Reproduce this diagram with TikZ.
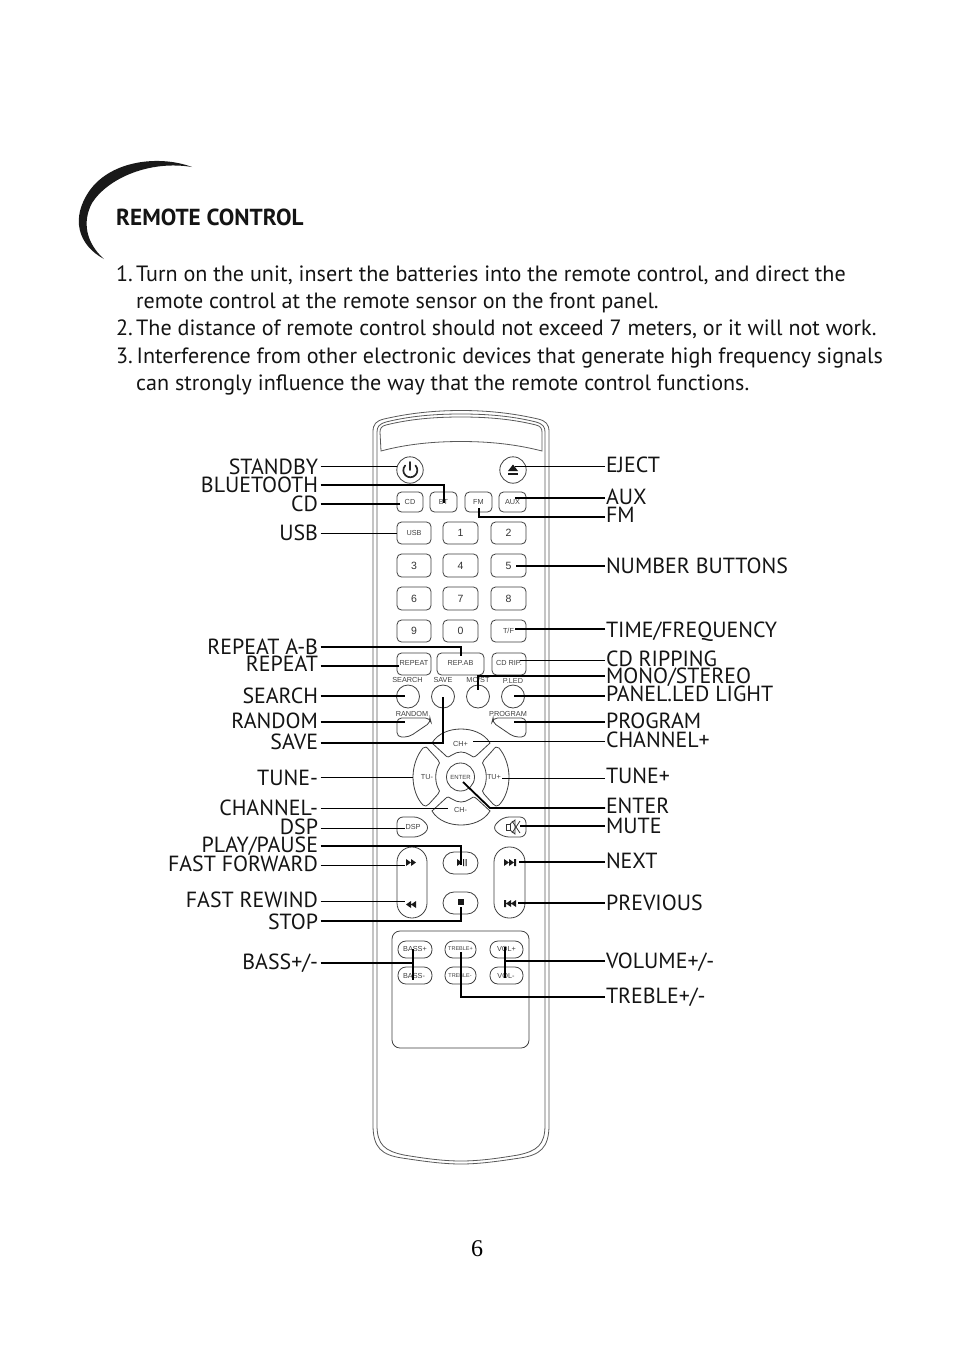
\documentclass[tikz,border=0pt]{standalone}
\usepackage{fontspec}
\setmainfont{PT Sans}
\newfontfamily\arialf{Liberation Sans}
\newfontfamily\timesf{Liberation Serif}
\tikzset{
 lblbase/.style={inner sep=0pt,text height=16pt,text depth=0pt,font=\fontsize{21.9}{21.9}\selectfont,text=black!92},
 lblL/.style={lblbase,anchor=east,outer sep=2.5pt},
 lblR/.style={lblbase,anchor=west,outer sep=1pt},
 up1/.style={text height=14pt},
 up2/.style={text height=12pt},
 up3/.style={text height=10pt},
 up4/.style={text height=8pt},
 bodytxt/.style={anchor=base west,inner sep=0pt,font=\fontsize{22.1}{27}\selectfont,text=black!92},
 thinc/.style={draw=black,line width=1pt},
 thickc/.style={draw=black,line width=1.8pt},
 rim/.style={draw=black!65,line width=0.8pt},
 keybox/.style={draw=black!75,line width=0.8pt,rounded corners=4.5pt},
 pill/.style={draw=black!75,line width=0.8pt},
 btxt/.style={inner sep=0pt,text=black!75,font=\arialf\fontsize{7.3}{7.3}\selectfont},
 btxtn/.style={inner sep=0pt,text=black!80,font=\arialf\fontsize{10.5}{10.5}\selectfont},
}
\newcommand{\rkey}[5]{\draw[keybox] (#1,#3) rectangle (#2,#4); \node[btxt] at ({(#1+#2)/2},{(#3+#4)/2}) {#5};}
\newcommand{\nkey}[5]{\draw[keybox] (#1,#3) rectangle (#2,#4); \node[btxtn] at ({(#1+#2)/2},{(#3+#4)/2}) {#5};}
\begin{document}
\begin{tikzpicture}[x=1pt,y=-1pt]
\useasboundingbox (0,0) rectangle (954,1354);
\fill[white] (0,0) rectangle (954,1354);
% swoosh
\fill[black!90] (192,167) .. controls (160,155) and (112,160) .. (90,190) .. controls (70,218) and (78,245) .. (104,259) .. controls (86,243) and (82,222) .. (92,203) .. controls (108,178) and (150,160) .. (192,167) -- cycle;
% text
\node[anchor=base west,inner sep=0pt,font=\bfseries\fontsize{23.2}{23.2}\selectfont,text=black!92] (title) at (116,225) {REMOTE CONTROL};
\node[bodytxt] (l1) at (116,281) {\makebox[20pt][l]{1.}Turn on the unit, insert the batteries into the remote control, and direct the};
\node[bodytxt] (l2) at (136,308) {remote control at the remote sensor on the front panel.};
\node[bodytxt] (l3) at (116,335) {\makebox[20pt][l]{2.}The distance of remote control should not exceed 7 meters, or it will not work.};
\node[bodytxt] (l4) at (116,363) {\makebox[20.5pt][l]{3.}Interference from other electronic devices that generate high frequency signals};
\node[bodytxt] (l5) at (136,390) {can strongly influence the way that the remote control functions.};
\node[anchor=base,inner sep=0pt,font=\timesf\fontsize{24}{24}\selectfont] (pg) at (477,1256) {6};
% body
\draw[rim] (373,432) .. controls (373,424) and (376,421) .. (384,419) .. controls (410,413) and (435,410.5) .. (461,410.5) .. controls (487,410.5) and (512,413) .. (538,419) .. controls (546,421) and (549,424) .. (549,432) -- (549,1125) .. controls (549,1148) and (540,1155) .. (520,1158) .. controls (500,1161) and (480,1164) .. (461,1164) .. controls (442,1164) and (422,1161) .. (402,1158) .. controls (382,1155) and (373,1148) .. (373,1125) -- cycle;
\draw[rim] (377,432) .. controls (377,427) and (379,424) .. (386,422) .. controls (410,416) and (435,414) .. (461,414) .. controls (487,414) and (512,416) .. (536,422) .. controls (543,424) and (545,427) .. (545,432) -- (545,1125) .. controls (545,1145) and (537,1151) .. (518,1155) .. controls (500,1158) and (480,1161) .. (461,1161) .. controls (442,1161) and (422,1158) .. (404,1155) .. controls (385,1151) and (377,1145) .. (377,1125) -- cycle;
\draw[rim] (381,451) -- (380,432) .. controls (380,428) and (382,426) .. (386,425) .. controls (410,419) and (435,417) .. (461,417) .. controls (487,417) and (512,419) .. (536,425) .. controls (540,426) and (542,428) .. (542,432) -- (542,451) .. controls (515,444) and (488,441.5) .. (461,441.5) .. controls (434,441.5) and (407,444) .. (381,451) -- cycle;
% power / eject
\draw[pill] (410,470) circle (13.2);
\draw[pill] (513,470) circle (13.2);
\draw[black!85,line width=1.7pt,line cap=round] (405.2,465.5) arc (223:-43:7);
\draw[black!85,line width=1.7pt,line cap=round] (410,462) -- (410,470);
\fill[black!90] (513,464.5) -- (518,471) -- (508,471) -- cycle;
\fill[black!90] (508,472.5) rectangle (518,474.5);
% key rows
\rkey{397}{423}{492}{512}{CD}
\rkey{430}{457}{492}{512}{BT}
\rkey{465}{492}{492}{512}{FM}
\rkey{499}{526}{492}{512}{AUX}
\rkey{397}{431}{522}{544}{USB}
\nkey{443}{478}{522}{544}{1}
\nkey{491}{526}{522}{544}{2}
\nkey{397}{431}{554}{577}{3}
\nkey{443}{478}{554}{577}{4}
\nkey{491}{526}{554}{577}{5}
\nkey{397}{431}{587}{610}{6}
\nkey{443}{478}{587}{610}{7}
\nkey{491}{526}{587}{610}{8}
\nkey{397}{431}{620}{642}{9}
\nkey{443}{478}{620}{642}{0}
\rkey{491}{526}{620}{642}{T/F}
\begin{scope}[every node/.append style={yshift=1.5pt}]
\rkey{397}{431}{653}{675}{REPEAT}
\rkey{437}{484}{653}{675}{REP.AB}
\rkey{492}{526}{653}{675}{CD RIP.}
\end{scope}
\node[btxt] (capsearch) at (407.5,680) {SEARCH};
\node[btxt] (capsave) at (443,680) {SAVE};
\node[btxt] (capmost) at (478,680) {MO/ST};
\node[btxt] (capled) at (513,681) {P.LED};
\draw[pill] (408,696.5) circle (11.5);
\draw[pill] (443,696.5) circle (11.5);
\draw[pill] (478,696.5) circle (11.5);
\draw[pill] (513,696.5) circle (11.5);
\node[btxt] (caprandom) at (412,714) {RANDOM};
\node[btxt] (capprogram) at (508,714) {PROGRAM};
\draw[keybox] (397,718) -- (430,718) -- (431,722) -- (409,737) -- (397,737) -- cycle;
\draw[keybox] (526,718) -- (493,718) -- (492,722) -- (514,737) -- (526,737) -- cycle;
\draw[keybox,rounded corners=6pt] (397,817) -- (420,817) -- (430,828) -- (420,837) -- (397,837) -- cycle;
\draw[keybox,rounded corners=6pt] (526,817) -- (503,817) -- (492,828) -- (503,837) -- (526,837) -- cycle;
\node[btxt] (capdsp) at (413,827) {DSP};
% d-pad
\draw[pill] (432,743) .. controls (438,733) and (450,729) .. (461,729) .. controls (472,729) and (484,733) .. (490,743) -- (477,755) .. controls (474,758) and (472,757) .. (470,755) .. controls (464,751) and (458,751) .. (452,755) .. controls (450,757) and (447,758) .. (445,755) -- cycle;
\draw[pill] (432,811) .. controls (438,821) and (450,825) .. (461,825) .. controls (472,825) and (484,821) .. (490,811) -- (477,799) .. controls (474,796) and (472,797) .. (470,799) .. controls (464,803) and (458,803) .. (452,799) .. controls (450,797) and (447,796) .. (445,799) -- cycle;
\draw[pill] (423,748) .. controls (417,755) and (413,766) .. (413,777) .. controls (413,788) and (417,799) .. (423,805) .. controls (425,807) and (427,806) .. (429,804) -- (438,794) .. controls (440,792) and (440,790) .. (438,788) .. controls (435,782) and (435,772) .. (438,766) .. controls (440,764) and (440,762) .. (438,760) -- (429,750) .. controls (427,747) and (425,746) .. (423,748) -- cycle;
\draw[pill] (499,748) .. controls (505,755) and (509,766) .. (509,777) .. controls (509,788) and (505,799) .. (499,805) .. controls (497,807) and (495,806) .. (493,804) -- (484,794) .. controls (482,792) and (482,790) .. (484,788) .. controls (487,782) and (487,772) .. (484,766) .. controls (482,764) and (482,762) .. (484,760) -- (493,750) .. controls (495,747) and (497,746) .. (499,748) -- cycle;
\draw[pill] (460.5,777) circle (14);
\node[btxt] (capch) at (460.5,743.5) {CH+};
\node[btxt] (capchm) at (460.5,810) {CH-};
\node[btxt] (captum) at (427,777) {TU-};
\node[btxt] (captup) at (494,777) {TU+};
\node[btxt,font=\arialf\fontsize{6}{6}\selectfont] (capenter) at (460.5,777) {ENTER};
% speaker icon
\draw[black!80,line width=0.8pt] (506,824) rectangle (510,830);
\draw[black!80,line width=0.8pt] (510,824) -- (515,820) -- (515,834) -- (510,830);
\draw[black!80,line width=0.8pt] (512,821) -- (520,833) (520,821) -- (512,833);
% transport
\draw[pill,rounded corners=15pt] (397,847) rectangle (427,918);
\draw[pill,rounded corners=15pt] (494,847) rectangle (525,918);
\draw[pill,rounded corners=11pt] (443,852) rectangle (478,874);
\draw[pill,rounded corners=11pt] (443,892) rectangle (478,914);
\fill[black!90] (406,859) -- (411,862.5) -- (406,866) -- cycle (411,859) -- (416,862.5) -- (411,866) -- cycle;
\fill[black!90] (416,901) -- (411,904.5) -- (416,908) -- cycle (411,901) -- (406,904.5) -- (411,908) -- cycle;
\fill[black!90] (504,859) -- (509,862.5) -- (504,866) -- cycle (509,859) -- (514,862.5) -- (509,866) -- cycle (514,859) rectangle (516,866);
\fill[black!90] (516,900) -- (511,903.5) -- (516,907) -- cycle (511,900) -- (506,903.5) -- (511,907) -- cycle (504,900) rectangle (506,907);
\fill[black!90] (457,859) -- (462,862.5) -- (457,866) -- cycle (463,859) rectangle (464,866) (465.5,859) rectangle (466.5,866);
\fill[black!90] (458,899) rectangle (464,905);
% panel
\draw[keybox,rounded corners=8pt] (392,931) rectangle (529,1048);
\draw[pill,rounded corners=8pt] (398,941) rectangle (432,958);
\draw[pill,rounded corners=8pt] (398,967) rectangle (432,984);
\draw[pill,rounded corners=8pt] (445,941) rectangle (476,958);
\draw[pill,rounded corners=8pt] (445,967) rectangle (476,984);
\draw[pill,rounded corners=8pt] (490,941) rectangle (523,958);
\draw[pill,rounded corners=8pt] (490,967) rectangle (523,984);
\node[btxt] (capb1) at (415,949) {BASS+};
\node[btxt] (capb2) at (414,975.5) {BASS-};
\node[btxt,font=\arialf\fontsize{5.5}{5.5}\selectfont] (capt1) at (460.5,949) {TREBLE+};
\node[btxt,font=\arialf\fontsize{5.5}{5.5}\selectfont] (capt2) at (460,975.5) {TREBLE-};
\node[btxt] (capv1) at (506.5,949) {VOL+};
\node[btxt] (capv2) at (506,975.5) {VOL-};
% connector ends
\foreach \n/\x/\y in {eStandby/397/466,eBt/444/503,eCd/400/504,eUsb/397/533,eRab/461/656,eRep/399/666,eSearch/405/696,eRandom/405/722,eSave/443/697,eTum/413/777,eChm/448/808,eDsp/405/828,ePlay/461/865,eFf/405/865,eFr/405/901,eStop/461/907,eEject/515/466,eAux/515/498,eFm/479/508,eNum/516/566,eTime/515/629,eRip/520/660,eMono/478/690,eLed/514/696,eProg/514/722,eChp/473/741,eTup/502/778,eEnter/463/782,eEnterK/490/808,eMute/520/826,eNext/519/862,ePrev/518/903,eTre/461/952}
 {\coordinate (\n) at (\x,\y);}
\coordinate (bassT) at (413,949);
\coordinate (bassB) at (413,980);
\coordinate (bassM) at (413,963);
\coordinate (volT) at (505,947);
\coordinate (volB) at (505,978);
\coordinate (volM) at (505,961);
% labels left
\node[lblL] (STANDBY) at (320.5,466) {STANDBY};
\node[lblL,up1] (BLUETOOTH) at (320.5,485) {BLUETOOTH};
\node[lblL,up1] (CD) at (320.5,504) {CD};
\node[lblL,up1] (USB) at (320.5,533) {USB};
\node[lblL,up1] (RAB) at (320.5,647) {REPEAT A-B};
\node[lblL,up3] (REP) at (320.5,666) {REPEAT};
\node[lblL,up1] (SEARCH) at (320.5,696) {SEARCH};
\node[lblL,up2] (RANDOM) at (320.5,722) {RANDOM};
\node[lblL,up2] (SAVE) at (320.5,743) {SAVE};
\node[lblL] (TUNEM) at (320.5,777) {TUNE-};
\node[lblL,up1] (CHM) at (320.5,808) {CHANNEL-};
\node[lblL,up2] (DSP) at (320.5,828) {DSP};
\node[lblL,up2] (PLAY) at (320.5,846) {PLAY/PAUSE};
\node[lblL,up2] (FF) at (320.5,865) {FAST FORWARD};
\node[lblL,up2] (FR) at (320.5,901) {FAST REWIND};
\node[lblL] (STOP) at (320.5,921) {STOP};
\node[lblL,up2] (BASS) at (320.5,963) {BASS+/-};
% labels right
\node[lblR,up2] (EJECT) at (605,466) {EJECT};
\node[lblR,up2] (AUX) at (605,498) {AUX};
\node[lblR,up3] (FM) at (605,517) {FM};
\node[lblR,up1] (NUM) at (605,566) {NUMBER BUTTONS};
\node[lblR] (TIME) at (605,629) {TIME/FREQUENCY};
\node[lblR,up2] (RIP) at (605,660) {CD RIPPING};
\node[lblR,up1] (MONO) at (605,676) {MONO/STEREO};
\node[lblR,up3] (LED) at (605,696) {PANEL.LED LIGHT};
\node[lblR,up2] (PROG) at (605,722) {PROGRAM};
\node[lblR,up2] (CHP) at (605,741) {CHANNEL+};
\node[lblR,up3] (TUP) at (605,778) {TUNE+};
\node[lblR,up3] (ENT) at (605,808) {ENTER};
\node[lblR,up1] (MUTE) at (605,826) {MUTE};
\node[lblR,up2] (NEXT) at (605,862) {NEXT};
\node[lblR,up1] (PREV) at (605,903) {PREVIOUS};
\node[lblR,up1] (VOL) at (605,961) {VOLUME+/-};
\node[lblR,up2] (TRE) at (605,997) {TREBLE+/-};
% connectors
\draw[thinc] (STANDBY.east) -- (eStandby);
\draw[thickc] (BLUETOOTH.east) -| (eBt);
\draw[thickc] (CD.east) -- (eCd);
\draw[thinc] (USB.east) -- (eUsb);
\draw[thickc] (RAB.east) -| (eRab);
\draw[thickc] (REP.east) -- (eRep);
\draw[thickc] (SEARCH.east) -- (eSearch);
\draw[thickc] (RANDOM.east) -- (eRandom);
\draw[thickc] (SAVE.east) -| (eSave);
\draw[thinc] (TUNEM.east) -- (eTum);
\draw[thinc] (CHM.east) -- (eChm);
\draw[thinc] (DSP.east) -- (eDsp);
\draw[thickc] (PLAY.east) -| (ePlay);
\draw[thinc] (FF.east) -- (eFf);
\draw[thinc] (FR.east) -- (eFr);
\draw[thickc] (STOP.east) -| (eStop);
\draw[thickc] (BASS.east) -- (bassM);
\draw[thickc] (bassT) -- (bassB);
\draw[thinc] (EJECT.west) -- (eEject);
\draw[thickc] (AUX.west) -- (eAux);
\draw[thickc] (FM.west) -| (eFm);
\draw[thickc] (NUM.west) -- (eNum);
\draw[thickc] (TIME.west) -- (eTime);
\draw[thinc] (RIP.west) -- (eRip);
\draw[thickc] (MONO.west) -| (eMono);
\draw[thickc] (LED.west) -- (eLed);
\draw[thickc] (PROG.west) -- (eProg);
\draw[thinc] (CHP.west) -- (eChp);
\draw[thinc] (TUP.west) -- (eTup);
\draw[thickc] (ENT.west) -- (eEnterK) -- (eEnter);
\draw[thickc] (MUTE.west) -- (eMute);
\draw[thickc] (NEXT.west) -- (eNext);
\draw[thickc] (PREV.west) -- (ePrev);
\draw[thickc] (VOL.west) -- (volM);
\draw[thickc] (volT) -- (volB);
\draw[thickc] (TRE.west) -| (eTre);
\end{tikzpicture}
\end{document}
